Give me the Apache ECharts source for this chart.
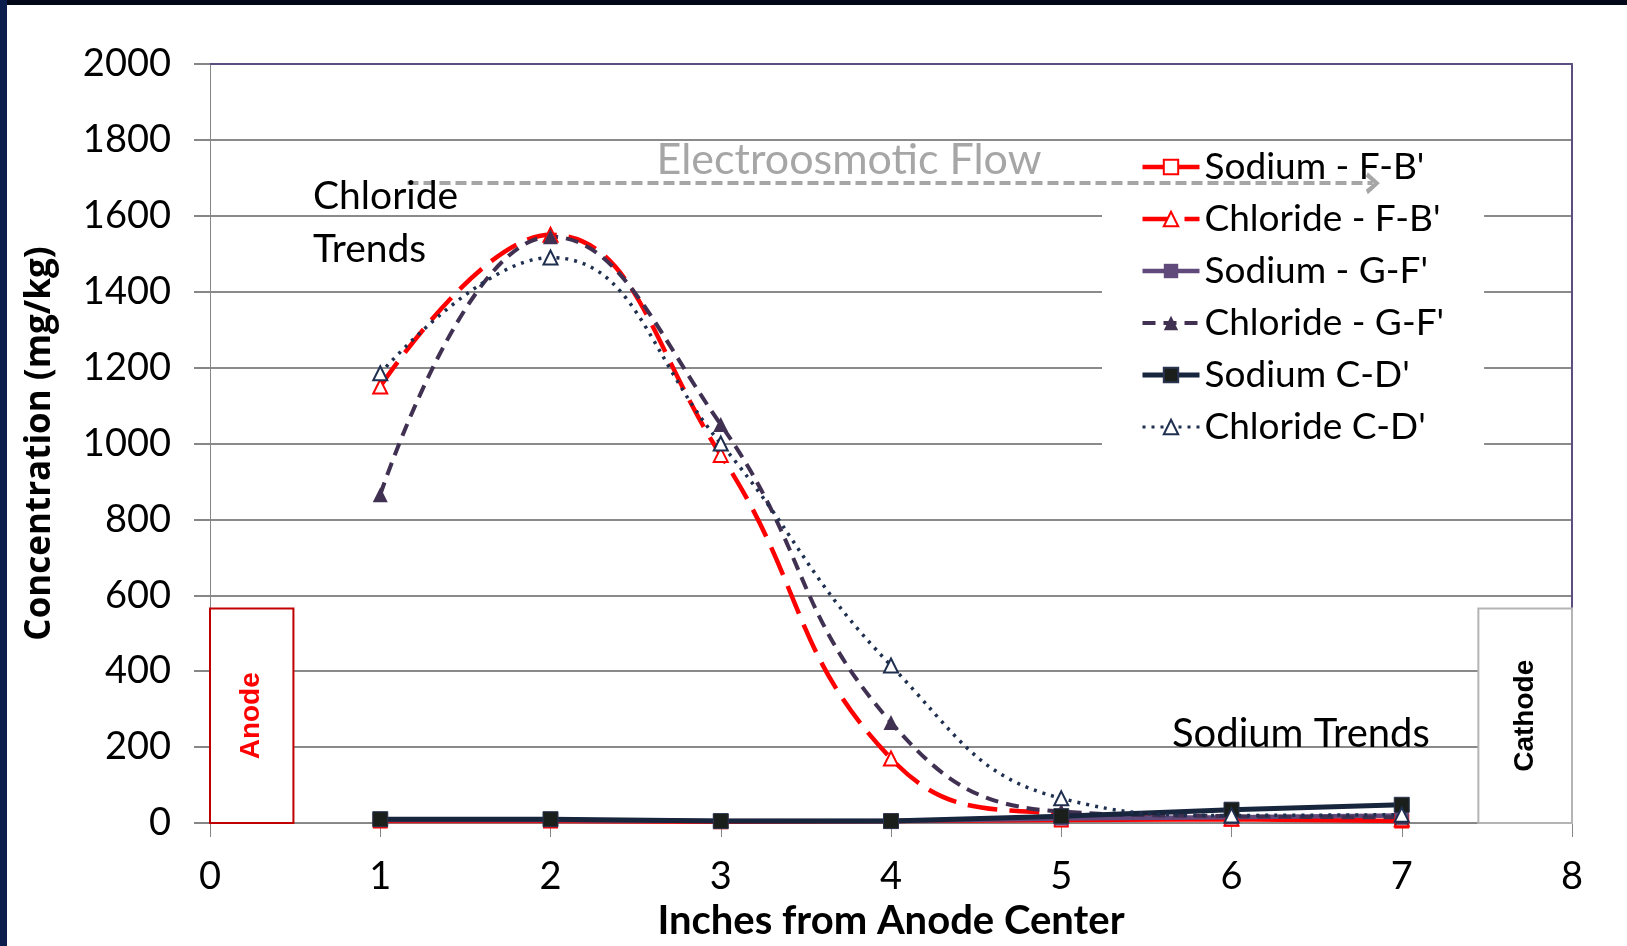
<!DOCTYPE html>
<html>
<head>
<meta charset="utf-8">
<title>Chloride and Sodium Trends</title>
<script src="https://cdn.jsdelivr.net/npm/echarts@6/dist/echarts.min.js"></script>
<style>
    body { margin: 0; background: #fff; }
    #wrap { position: relative; width: 1627px; height: 946px; overflow: hidden; }
    #box { position: absolute; left: 0; top: 0; width: 1627px; height: 946px; }
    .barTop { position: absolute; left: 0; top: 0; width: 1627px; height: 5px; background: #020817; }
    .barLeft { position: absolute; left: 0; top: 0; width: 7px; height: 946px; background: #0a1d4c; }
</style>
</head>
<body>
<div id="wrap">
    <div id="box"></div>
    <div class="barTop"></div>
    <div class="barLeft"></div>
</div>
<script>
// inches from anode center
var inches = [1, 2, 3, 4, 5, 6, 7];

// concentrations (mg/kg)
var sodiumFB = [5, 5, 3, 5, 8, 10, 5];
var chlorideFB = [1150, 1550, 970, 170, 25, 12, 10];
var sodiumGF = [8, 8, 5, 5, 12, 15, 20];
var chlorideGF = [865, 1545, 1050, 265, 30, 18, 15];
var sodiumCD = [10, 10, 5, 5, 18, 35, 48];
var chlorideCD = [1185, 1490, 1000, 415, 65, 20, 22];

var seriesNames = ["Sodium - F-B'", "Chloride - F-B'", "Sodium - G-F'", "Chloride - G-F'", "Sodium C-D'", "Chloride C-D'"];
var legendWidths = [4.5, 4.5, 4.5, 4, 5, 3];

function pairs(vals) {
    return inches.map(function (x, i) { return [x, vals[i]]; });
}

var chevron = 'path://M0,12L10,0L20,12L16,14L10,6L4,14Z';
var font = 'Lato';

var myChart = echarts.init(document.getElementById('box'));
myChart.setOption({
    animation: false,
    backgroundColor: '#fff',
    grid: { left: 210, top: 64, right: 55, bottom: 123 },
    legend: {
        data: seriesNames.map(function (n, i) {
            return { name: n, lineStyle: { width: legendWidths[i] } };
        }),
        orient: 'vertical',
        left: 1102,
        top: 142,
        padding: [5, 40, 7, 38],
        backgroundColor: '#fff',
        itemWidth: 57,
        itemHeight: 18,
        itemGap: 12,
        textStyle: { fontFamily: font, fontSize: 37, color: '#000', lineHeight: 40 }
    },
    xAxis: [{
        type: 'value',
        min: 0, max: 8, interval: 1,
        name: 'Inches from Anode Center',
        nameLocation: 'middle',
        nameGap: 77,
        nameTextStyle: { fontFamily: font, fontWeight: 'bold', fontSize: 40, color: '#000' },
        axisLine: { onZero: false, lineStyle: { color: '#868686', width: 1 } },
        axisTick: { length: 14, lineStyle: { color: '#868686' } },
        axisLabel: { margin: 35, fontFamily: font, fontSize: 38, color: '#000' },
        splitLine: { show: false }
    }, {
        type: 'value',
        position: 'top',
        min: 0, max: 8, interval: 1,
        axisLine: { onZero: false, lineStyle: { color: '#5c4f80', width: 2 } },
        axisTick: { show: false },
        axisLabel: { show: false },
        splitLine: { show: false }
    }],
    yAxis: [{
        type: 'value',
        min: 0, max: 2000, interval: 200,
        name: 'Concentration (mg/kg)',
        nameLocation: 'middle',
        nameGap: 152,
        nameTextStyle: { fontFamily: 'Open Sans', fontWeight: 'bold', fontSize: 35, color: '#000' },
        axisLine: { show: true, onZero: false, lineStyle: { color: '#868686', width: 1 } },
        axisTick: { show: true, length: 16, lineStyle: { color: '#868686', width: 2 } },
        axisLabel: {
            margin: 39, fontFamily: font, fontSize: 38, color: '#000',
            formatter: function (v) { return String(v); }
        },
        splitLine: { lineStyle: { color: '#8a8a8a', width: 2 } }
    }, {
        type: 'value',
        position: 'right',
        min: 0, max: 2000, interval: 200,
        axisLine: { show: true, onZero: false, lineStyle: { color: '#5c4f80', width: 2 } },
        axisTick: { show: false },
        axisLabel: { show: false },
        splitLine: { show: false }
    }],
    graphic: [
        { type: 'text', x: 849, y: 160, style: { text: 'Electroosmotic Flow', font: '43px Lato', fill: '#a6a6a6', textAlign: 'center', textVerticalAlign: 'middle' }, z: 20 },
        { type: 'text', x: 313, y: 196, style: { text: 'Chloride', font: '39px Lato', fill: '#000', textVerticalAlign: 'middle' }, z: 20 },
        { type: 'text', x: 313, y: 249, style: { text: 'Trends', font: '39px Lato', fill: '#000', textVerticalAlign: 'middle' }, z: 20 },
        { type: 'text', x: 1172, y: 734, style: { text: 'Sodium Trends', font: '40px Lato', fill: '#000', textVerticalAlign: 'middle' }, z: 20 }
    ],
    series: [{
        name: seriesNames[0],
        type: 'line',
        data: pairs(sodiumFB),
        color: '#ff0000',
        symbol: 'emptyRect', symbolSize: 13,
        lineStyle: { width: 4.5, color: '#ff0000' },
        itemStyle: { color: '#ff0000', borderWidth: 2 }
    }, {
        name: seriesNames[1],
        type: 'line',
        smooth: 0.45,
        data: pairs(chlorideFB),
        color: '#ff0000',
        symbol: 'emptyTriangle', symbolSize: 14,
        lineStyle: { width: 4.5, color: '#ff0000', type: [30, 12] },
        itemStyle: { color: '#ff0000', borderWidth: 2 }
    }, {
        name: seriesNames[2],
        type: 'line',
        data: pairs(sodiumGF),
        color: '#604a7b',
        symbol: 'rect', symbolSize: 14,
        lineStyle: { width: 4.5, color: '#604a7b' },
        itemStyle: { color: '#604a7b' }
    }, {
        name: seriesNames[3],
        type: 'line',
        smooth: 0.45,
        data: pairs(chlorideGF),
        color: '#403152',
        symbol: 'triangle', symbolSize: 15,
        lineStyle: { width: 4, color: '#403152', type: [13, 8] },
        itemStyle: { color: '#403152' }
    }, {
        name: seriesNames[4],
        type: 'line',
        data: pairs(sodiumCD),
        color: '#17253d',
        symbol: 'rect', symbolSize: 15,
        lineStyle: { width: 5, color: '#17253d' },
        itemStyle: { color: '#1b1f1c', borderColor: '#2a3450', borderWidth: 1 }
    }, {
        name: seriesNames[5],
        type: 'line',
        smooth: 0.45,
        data: pairs(chlorideCD),
        color: '#1f2f4f',
        symbol: 'emptyTriangle', symbolSize: 14,
        lineStyle: { width: 3.5, color: '#1f2f4f', type: [3, 6] },
        itemStyle: { color: '#1f2f4f', borderWidth: 1.5 }
    }, {
        // annotations: electrode boxes and flow arrow
        type: 'line',
        data: [],
        z: 10,
        silent: true,
        markArea: {
            silent: true,
            data: [
                [{ coord: [0, 0], itemStyle: { color: '#fff', borderColor: '#c00000', borderWidth: 2 },
                   label: { show: true, position: 'inside', rotate: 90, formatter: 'Anode', color: '#ff0000', fontFamily: 'Liberation Sans', fontWeight: 'bold', fontSize: 28 } },
                 { coord: [0.49, 565] }],
                [{ coord: [7.45, 0], itemStyle: { color: '#fff', borderColor: '#b4b4b4', borderWidth: 2 },
                   label: { show: true, position: 'inside', rotate: 90, formatter: 'Cathode', color: '#000', fontFamily: 'Liberation Sans', fontWeight: 'bold', fontSize: 28 } },
                 { coord: [8, 565] }]
            ]
        },
        markLine: {
            silent: true,
            symbol: ['none', chevron],
            symbolSize: [22, 14],
            label: { show: false },
            lineStyle: { color: '#a6a6a6', width: 4, type: [11, 5] },
            data: [[{ coord: [1.16, 1686] }, { coord: [6.83, 1686] }]]
        }
    }]
});
window.addEventListener('resize', function () {
    myChart.resize();
});
</script>
</body>
</html>
